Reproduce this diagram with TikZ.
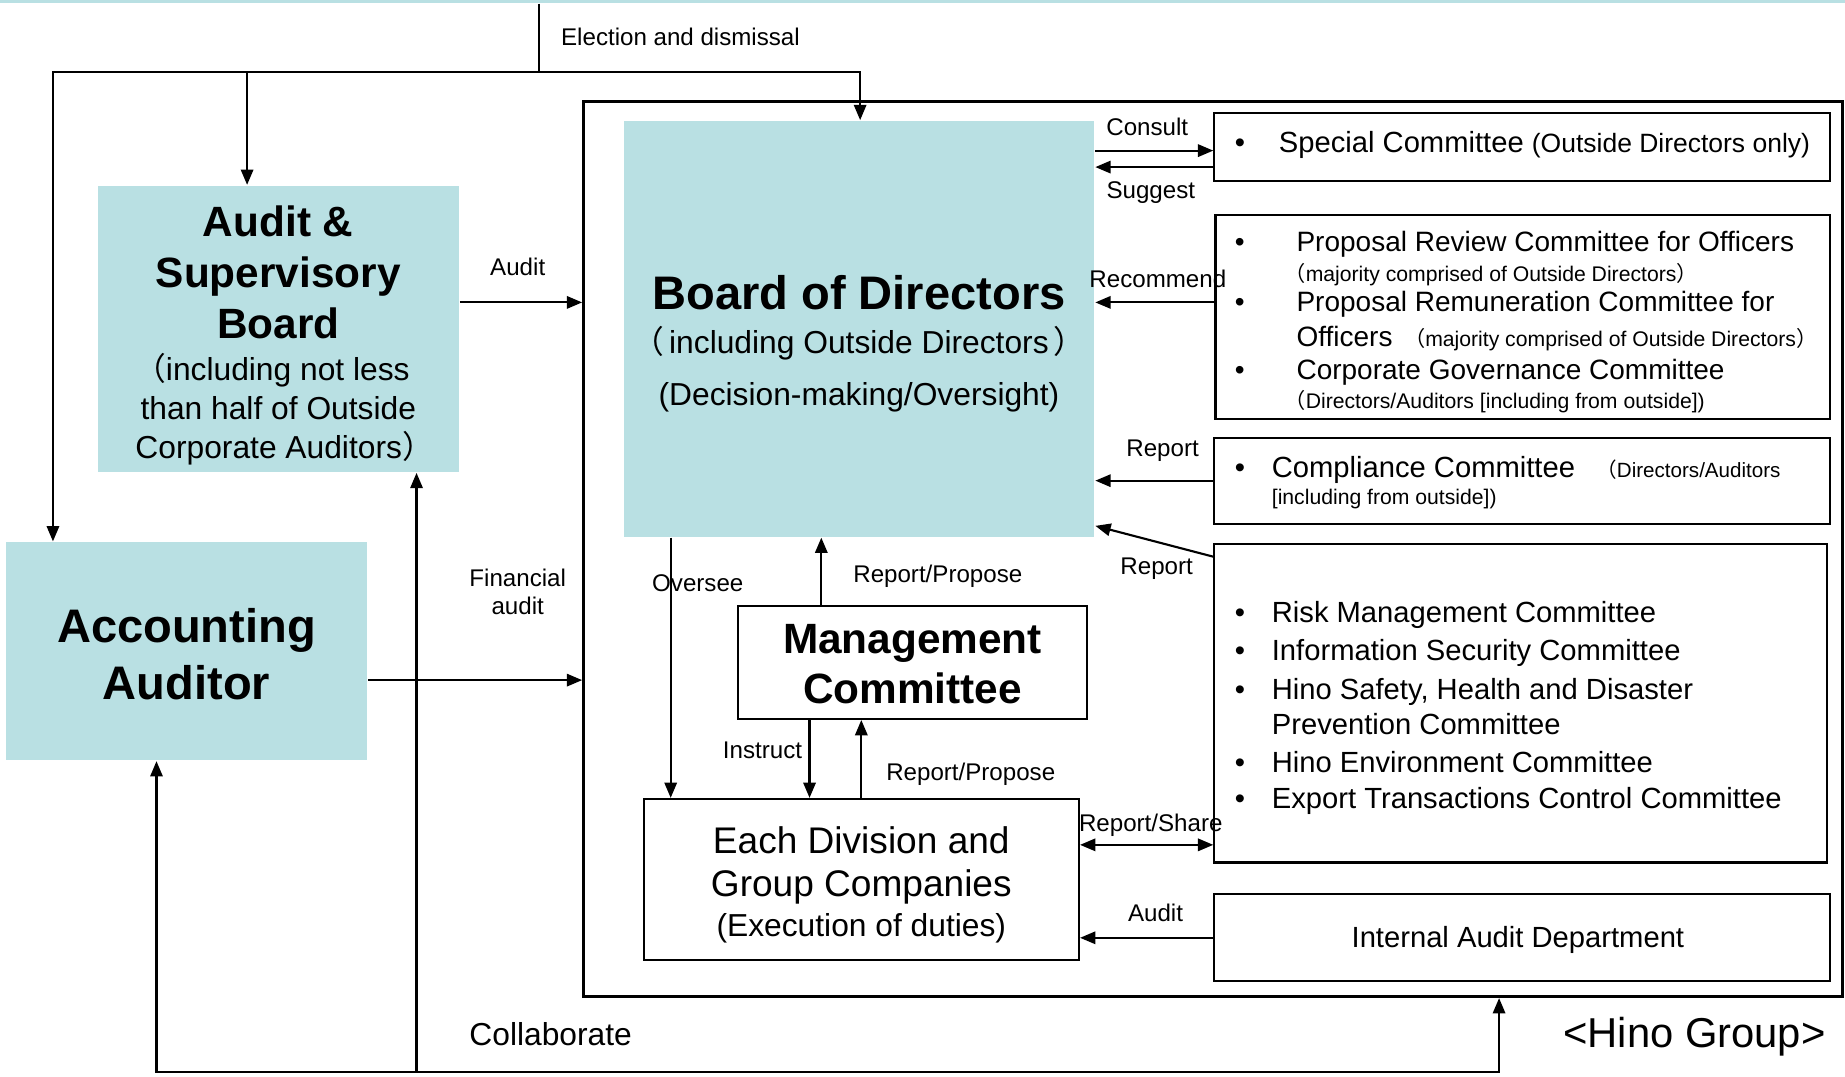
\documentclass[tikz,border=0pt]{standalone}
\usepackage{fontspec}
\setmainfont{Liberation Sans}
\newfontfamily\cjk{Noto Sans CJK JP}
\usetikzlibrary{arrows.meta}
\definecolor{boardcyan}{RGB}{185,224,227}
\newcommand\fsz[2]{\fontsize{#1}{#2}\selectfont}
\newcommand\fwl{{\cjk\kern-.4em （}}
\newcommand\fwr{{\cjk ）\kern-.4em}}
\newcommand\itm[1]{\makebox[#1][l]{•}}

\begin{document}
\begin{tikzpicture}[x=1pt, y=-1pt, line width=1.8pt,
	>={Triangle[length=13pt,width=10.5pt]},
	cyanbox/.style={rectangle, fill=boardcyan, inner sep=0pt},
	linebox/.style={rectangle, draw, inner sep=0pt},
	lbl/.style={font=\fsz{20.5}{24}, inner sep=0pt},
	item/.style={anchor=west, inner sep=0pt, font=\fsz{24.8}{30}}]
		\useasboundingbox (0,0) rectangle (1568,915);
		\fill[boardcyan] (0,0) rectangle (1568,2.5);
		% Hino group frame
		\node[linebox, line width=2.5pt, minimum width=1070, minimum height=761] (grp) at (1031,466.5) {};
		% boards
		\node[cyanbox, minimum width=307, minimum height=243] (asb) at (236.5,279.5) {};
		\node[align=center, font=\fsz{36}{43.5}\bfseries] (asb-t) at (236.5,231.5) {Audit \&\\Supervisory\\Board};
		\node[align=center, font=\fsz{27}{33}] (asb-s) at (236.5,348) {\fwl including not less\\than half of Outside\\Corporate Auditors\fwr};
		\node[cyanbox, minimum width=400, minimum height=353] (bod) at (730,279.5) {};
		\node[font=\fsz{40}{48}\bfseries] (bod-t) at (730,249) {Board of Directors};
		\node[align=center, font=\fsz{27}{44}] (bod-s) at (730,314) {\fwl\kern.15em including Outside Directors\kern.15em\fwr\\(Decision-making/Oversight)};
		\node[cyanbox, minimum width=307, minimum height=185] (acc) at (158.5,553.5) {};
		\node[align=center, font=\fsz{40}{48}\bfseries] (acc-t) at (158.5,556) {Accounting\\Auditor};
		% execution
		\node[linebox, minimum width=297, minimum height=96] (mgt) at (775.5,563) {};
		\node[align=center, font=\fsz{36}{43}\bfseries] (mgt-t) at (775.5,564.5) {Management\\Committee};
		\node[linebox, minimum width=370, minimum height=137] (div) at (732,747.5) {};
		\node[align=center, font=\fsz{31.5}{37}] (div-t) at (732,735.5) {Each Division and\\Group Companies};
		\node[font=\fsz{27}{32}, inner sep=0pt] (div-s) at (732,789) {(Execution of duties)};
		% committees
		\node[linebox, minimum width=523, minimum height=58] (sc) at (1293.5,125) {};
		\node[item] (sc-t) at (1048.5,123.5) {\itm{37.5pt}Special Committee {\fsz{22.5}{27}(Outside Directors only)}};
		\node[linebox, minimum width=522, minimum height=173] (prc) at (1294,269.5) {};
		\node[item, font=\fsz{23.8}{29}] (pr-1) at (1048.5,208) {\itm{52.5pt}Proposal Review Committee for Officers};
		\node[item, font=\fsz{18}{21}] (pr-2) at (1098,233) {\fwl majority comprised of Outside Directors\fwr};
		\node[item, font=\fsz{23.8}{29}] (pr-3) at (1048.5,259) {\itm{52.5pt}Proposal Remuneration Committee for};
		\node[item, font=\fsz{23.8}{29}] (pr-4) at (1101,288) {Officers\hspace{17pt}{\fsz{18}{21}\fwl majority comprised of Outside Directors\fwr}};
		\node[item, font=\fsz{23.8}{29}] (pr-5) at (1048.5,316) {\itm{52.5pt}Corporate Governance Committee};
		\node[item, font=\fsz{18}{21}] (pr-6) at (1098,341) {\fwl Directors/Auditors [including from outside])};
		\node[linebox, minimum width=523, minimum height=73] (cc) at (1293.5,408.5) {};
		\node[item] (cc-1) at (1048.5,399) {\itm{31.5pt}Compliance Committee\hspace{25pt}{\fsz{17.5}{21}\fwl Directors/Auditors}};
		\node[item, font=\fsz{18}{21}] (cc-2) at (1080,424) {[including from outside])};
		\node[linebox, minimum width=521, minimum height=271] (rmc) at (1292.5,597.5) {};
		\foreach \y/\t [count=\i] in {523/Risk Management Committee, 555/Information Security Committee, 588/{Hino Safety, Health and Disaster}, 648/Hino Environment Committee, 681/Export Transactions Control Committee}
			\node[item] (rm-\i) at (1048.5,\y) {\itm{31.5pt}\t};
		\node[item] (rm-cont) at (1080,615) {Prevention Committee};
		\node[linebox, minimum width=523, minimum height=74] (iad) at (1293.5,797) {};
		\node[font=\fsz{24.8}{30}, inner sep=0pt] (iad-t) at (1290,799) {Internal Audit Department};
		% election and dismissal
		\coordinate (el-top) at (458,3);
		\coordinate (el-l) at (45,61);
		\coordinate (el-m) at (210,61);
		\coordinate (el-r) at (731,61);
		\draw[line width=1pt] (el-top) -- (el-top |- el-l);
		\draw[<->] (el-l |- acc.north) -- (el-l) -- (el-r) -- (el-r |- bod.north);
		\draw[->] (el-m) -- (el-m |- asb.north);
		\node[lbl, anchor=west] (lb-elect) at (476,31) {Election and dismissal};
		% audit
		\draw[->] ([yshift=22.5pt]asb.east) -- ([yshift=22.5pt]asb.east -| grp.west);
		\node[lbl] (lb-audit1) at (440,227) {Audit};
		\draw[->] ([yshift=-24.5pt]acc.east) -- ([yshift=-24.5pt]acc.east -| grp.west);
		\node[lbl, align=center] (lb-fin) at (440,503) {Financial\\audit};
		% board and committees
		\draw[->] ([yshift=-3pt]sc.west -| bod.east) -- ([yshift=-3pt]sc.west);
		\node[lbl] (lb-consult) at (975,108) {Consult};
		\draw[->] ([yshift=-17pt]sc.west) -- ([yshift=-17pt]sc.west -| bod.east);
		\node[lbl] (lb-suggest) at (978,164) {Suggest};
		\draw[->] ([yshift=12.5pt]prc.west) -- ([yshift=12.5pt]prc.west -| bod.east);
		\node[lbl] (lb-recommend) at (984,237) {Recommend};
		\draw[->] (cc.west) -- (cc.west -| bod.east);
		\node[lbl] (lb-report1) at (988,383) {Report};
		\draw[->] ([yshift=-12pt]rmc.north west) -- ([yshift=10pt]bod.south east);
		\node[lbl] (lb-report2) at (983,483) {Report};
		\draw[<->] ([yshift=29.5pt]div.east) -- ([yshift=29.5pt]div.east -| rmc.west);
		\node[lbl] (lb-share) at (978,701) {Report/Share};
		\draw[->] (iad.west) -- (iad.west -| div.east);
		\node[lbl] (lb-audit2) at (982,776) {Audit};
		% oversee and report
		\draw[->] ([xshift=-160pt]bod.south) -- ([xshift=-160pt]bod.south |- div.north);
		\node[lbl] (lb-oversee) at (593,496) {Oversee};
		\draw[->] ([xshift=-77.5pt]mgt.north) -- ([xshift=-77.5pt]mgt.north |- bod.south);
		\node[lbl] (lb-rp1) at (797,490) {Report/Propose};
		\draw[->] ([xshift=-87.5pt]mgt.south) -- ([xshift=-87.5pt]mgt.south |- div.north);
		\node[lbl] (lb-instruct) at (648,638) {Instruct};
		\draw[->] (div.north) -- (div.north |- mgt.south);
		\node[lbl] (lb-rp2) at (825,658) {Report/Propose};
		% collaborate
		\coordinate (co-l) at (133,911);
		\coordinate (co-m) at (354,911);
		\coordinate (co-r) at (1274,911);
		\draw[<->] (co-l |- acc.south) -- (co-l) -- (co-r) -- (co-r |- grp.south);
		\draw[->] (co-m) -- (co-m |- asb.south);
		\node[font=\fsz{27}{32}, inner sep=0pt] (lb-collab) at (468,879) {Collaborate};
		\node[font=\fsz{35.5}{42}, inner sep=0pt] (lb-hino) at (1440,881) {<Hino Group>};
	\end{tikzpicture}
\end{document}
